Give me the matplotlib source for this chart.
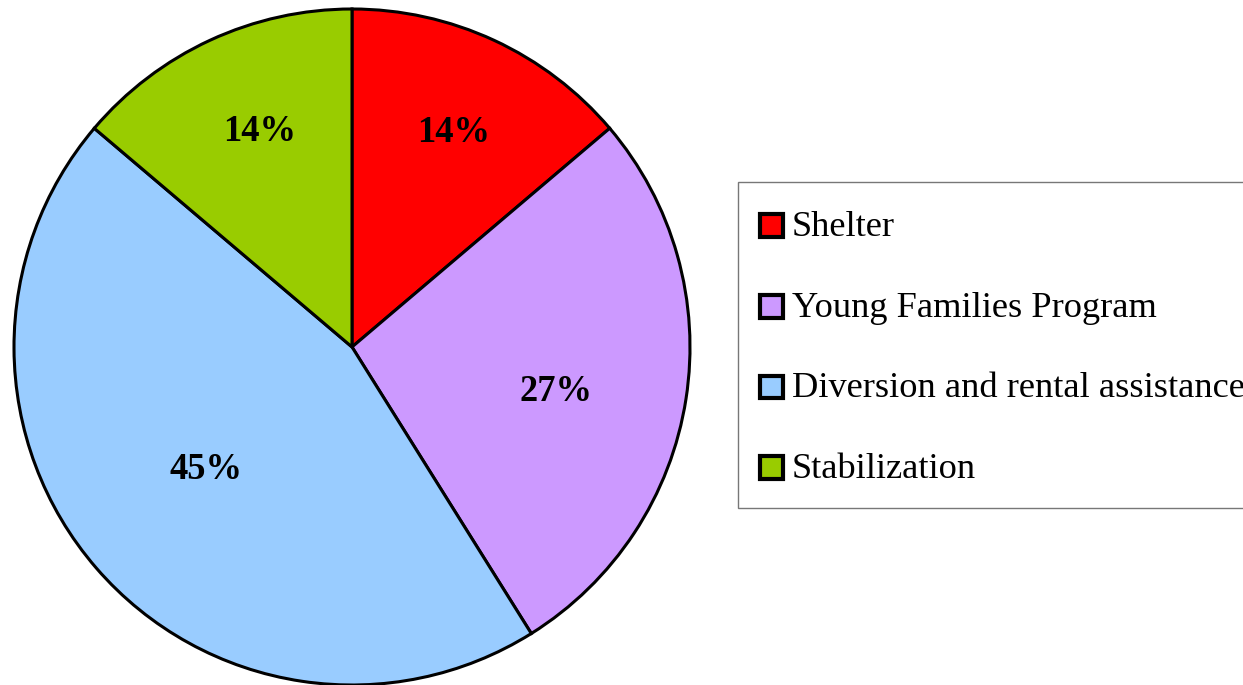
import matplotlib
matplotlib.use("Agg")
import matplotlib.pyplot as plt
from matplotlib.patches import Rectangle
from matplotlib.legend_handler import HandlerPatch
import numpy as np

categories = ["Shelter", "Young Families Program", "Diversion and rental assistance", "Stabilization"]
values = [13.8, 27.3, 45.1, 13.8]
colors = ["#FF0000", "#CC99FF", "#99CCFF", "#99CC00"]
label_dist = [0.705, 0.617, 0.563, 0.698]
label_dang = [-0.4, -3.0, -1.2, -1.8]

plt.rcParams['font.family'] = ['Liberation Serif', 'DejaVu Serif']

fig = plt.figure(figsize=(12.43, 6.85), dpi=100)
W, H = 1243, 685
cx, cy, R = 352, 347, 338
ax = fig.add_axes([(cx - R) / W, (H - cy - R) / H, 2 * R / W, 2 * R / H])
wedges, texts, autotexts = ax.pie(
    values, colors=colors, startangle=90, counterclock=False,
    autopct="%1.0f%%", pctdistance=0.65, radius=1,
    wedgeprops=dict(edgecolor="black", linewidth=2.2),
    textprops=dict(fontsize=26.3, fontweight="bold", color="black"))
for w, t, d, da in zip(wedges, autotexts, label_dist, label_dang):
    ang = np.deg2rad((w.theta1 + w.theta2) / 2 + da)
    t.set_position((d * np.cos(ang), d * np.sin(ang) - 0.004))
ax.set_xlim(-1, 1)
ax.set_ylim(-1, 1)
ax.set_aspect("equal")
ax.axis("off")

FS = 26.2
SQ = 0.62 * FS


def square(legend, orig_handle, xdescent, ydescent, width, height, fontsize):
    return Rectangle((-xdescent + (width - SQ) / 2, -ydescent + (height - SQ) / 2 - 1.2), SQ, SQ)


leg = fig.legend(wedges, categories, loc="upper left",
                 bbox_to_anchor=(738 / W, 1 - 182 / H),
                 fontsize=FS, frameon=True, fancybox=False,
                 edgecolor="#555555", borderaxespad=0,
                 handlelength=0.63, handleheight=1.33, handletextpad=0.25,
                 labelspacing=1.105, borderpad=0.6,
                 handler_map={w: HandlerPatch(patch_func=square) for w in wedges})
leg.get_frame().set_linewidth(1.0)
for h in leg.legend_handles:
    h.set_linewidth(3)

fig.savefig("out.png", dpi=100)
